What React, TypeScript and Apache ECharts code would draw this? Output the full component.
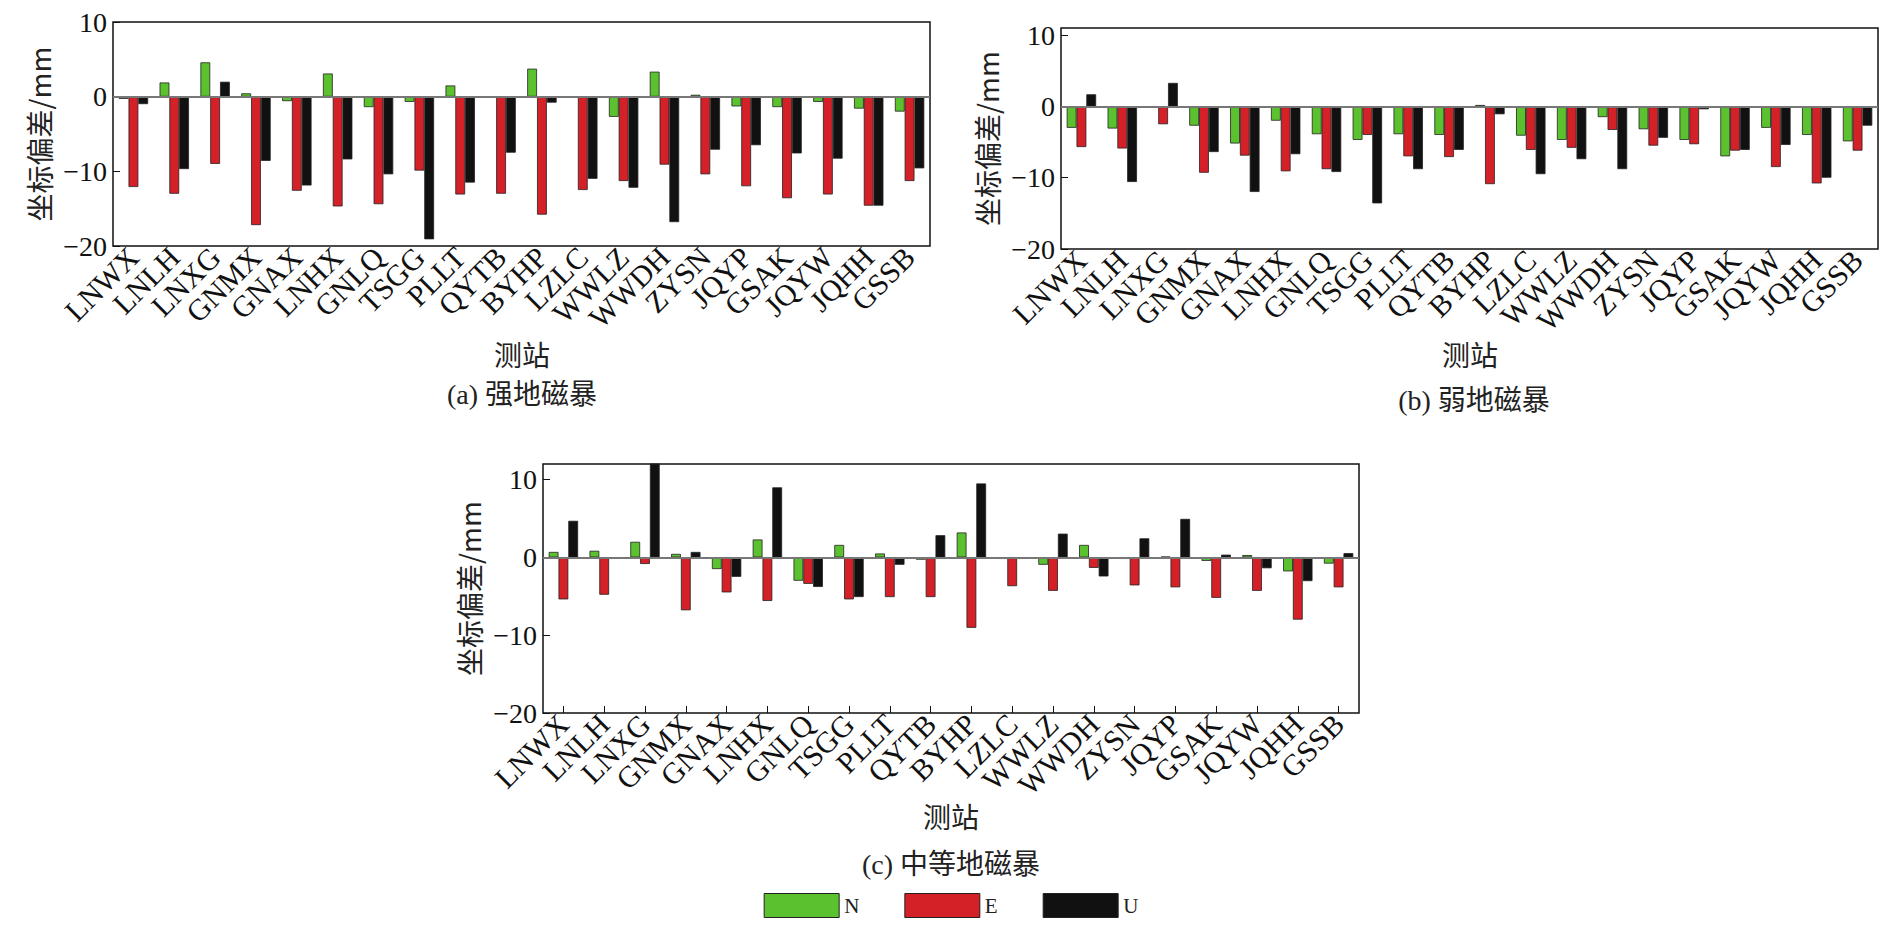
import { useEffect, useRef } from "react"
import * as echarts from "echarts"

const stations = ["LNWX", "LNLH", "LNXG", "GNMX", "GNAX", "LNHX", "GNLQ", "TSGG", "PLLT", "QYTB", "BYHP", "LZLC", "WWLZ", "WWDH", "ZYSN", "JQYP", "GSAK", "JQYW", "JQHH", "GSSB"]

// (a) 强地磁暴
const strongN = [-0.3, 1.9, 4.6, 0.45, -0.6, 3.1, -1.4, -0.7, 1.5, -0.1, 3.75, -0.05, -2.7, 3.35, 0.25, -1.3, -1.4, -0.7, -1.6, -2.0]
const strongE = [-12.1, -13.0, -9.0, -17.2, -12.6, -14.7, -14.4, -9.9, -13.1, -13.0, -15.8, -12.5, -11.3, -9.1, -10.4, -12.0, -13.6, -13.1, -14.6, -11.3]
const strongU = [-1.0, -9.7, 2.0, -8.6, -11.9, -8.4, -10.4, -19.1, -11.5, -7.5, -0.8, -11.0, -12.2, -16.8, -7.1, -6.5, -7.6, -8.3, -14.6, -9.6]

// (b) 弱地磁暴
const weakN = [-3.0, -3.1, -0.2, -2.7, -5.2, -2.0, -3.9, -4.7, -3.9, -4.0, 0.2, -4.1, -4.7, -1.5, -3.2, -4.7, -7.0, -3.0, -4.0, -4.9]
const weakE = [-5.7, -5.9, -2.5, -9.3, -6.9, -9.1, -8.8, -4.0, -7.0, -7.1, -10.9, -6.1, -5.8, -3.3, -5.5, -5.3, -6.2, -8.5, -10.8, -6.2]
const weakU = [1.7, -10.6, 3.3, -6.4, -12.0, -6.7, -9.2, -13.6, -8.8, -6.1, -1.1, -9.5, -7.4, -8.8, -4.4, -0.4, -6.1, -5.4, -10.0, -2.7]

// (c) 中等地磁暴
const midN = [0.7, 0.85, 2.0, 0.45, -1.5, 2.3, -3.0, 1.6, 0.5, -0.3, 3.2, -0.2, -0.95, 1.6, -0.2, 0.1, -0.45, 0.3, -1.8, -0.8]
const midE = [-5.4, -4.8, -0.85, -6.8, -4.5, -5.6, -3.4, -5.4, -5.1, -5.1, -9.05, -3.7, -4.3, -1.35, -3.6, -3.85, -5.2, -4.3, -8.0, -3.85]
const midU = [4.7, -0.2, 12.5, 0.7, -2.5, 9.0, -3.8, -5.1, -0.95, 2.85, 9.5, -0.2, 3.05, -2.45, 2.45, 4.95, 0.35, -1.4, -3.05, 0.55]

const colors = ["#5cc12e", "#d42027", "#111111"]
const names = ["N", "E", "U"]
const serif = "'Liberation Serif', 'Noto Sans CJK SC', serif"
const cjk = "'Noto Sans CJK SC', serif"

const grids = [
  { left: 105, top: 4, width: 817, height: 234 },
  { left: 1053, top: 20, width: 817, height: 221 },
  { left: 535, top: 456, width: 816, height: 249 },
]
const yMax = [10, 11, 12]
const panels = [
  [strongN, strongE, strongU],
  [weakN, weakE, weakU],
  [midN, midE, midU],
]
const captions = [
  { text: "(a) 强地磁暴", x: 514, y: 386, sx: 514, sy: 346 },
  { text: "(b) 弱地磁暴", x: 1466, y: 392, sx: 1462, sy: 346 },
  { text: "(c) 中等地磁暴", x: 943, y: 856, sx: 943, sy: 808 },
]

export default function App() {
  const ref = useRef<HTMLDivElement>(null)

  useEffect(() => {
    if (!ref.current) return
    const chart = echarts.init(ref.current, null, { renderer: "svg" })

    const series: any[] = []
    panels.forEach((data, gi) => {
      data.forEach((vals, si) => {
        series.push({
          name: names[si],
          type: "bar",
          xAxisIndex: gi,
          yAxisIndex: gi,
          data: vals,
          barGap: "0%",
          barCategoryGap: "28%",
          itemStyle: { color: colors[si], borderColor: "#222", borderWidth: 0.8 },
          markLine: si === 0 ? {
            silent: true,
            symbol: "none",
            label: { show: false },
            lineStyle: { color: "#777", type: "solid", width: 2 },
            data: [{ yAxis: 0 }],
          } : undefined,
        })
      })
    })

    chart.setOption({
      animation: false,
      grid: grids.map((g) => ({ ...g, show: true, borderColor: "#111", borderWidth: 1.5, backgroundColor: "#fff" })),
      legend: {
        data: names,
        bottom: 8,
        left: "center",
        itemWidth: 75,
        itemHeight: 24,
        itemGap: 45,
        icon: "rect",
        itemStyle: { borderColor: "#222", borderWidth: 1 },
        textStyle: { fontFamily: serif, fontSize: 21, color: "#222" },
      },
      xAxis: grids.map((_, gi) => ({
        type: "category",
        gridIndex: gi,
        data: stations,
        axisLine: { onZero: false, show: false },
        axisTick: { show: gi === 2, inside: true, alignWithLabel: true, length: 7, lineStyle: { color: "#111" } },
        axisLabel: { interval: 0, rotate: 45, fontFamily: serif, fontSize: 30, color: "#111", margin: 6 },
      })),
      yAxis: grids.map((_, gi) => ({
        type: "value",
        gridIndex: gi,
        min: -20,
        max: yMax[gi],
        interval: 10,
        name: "坐标偏差/mm",
        nameLocation: "middle",
        nameGap: 60,
        nameTextStyle: { fontFamily: cjk, fontSize: 28, color: "#222" },
        axisLine: { show: false },
        axisTick: { show: true, inside: true, length: 7, lineStyle: { color: "#111" } },
        splitLine: { show: false },
        axisLabel: {
          fontFamily: serif, fontSize: 28, color: "#111", margin: 6,
          formatter: (v: number) => (v < 0 ? "−" + Math.abs(v) : String(v)),
        },
      })),
      graphic: captions.flatMap((c) => [
        { type: "text", x: c.sx, y: c.sy, style: { text: "测站", fontFamily: cjk, fontSize: 28, fill: "#222", align: "center", verticalAlign: "middle" } },
        { type: "text", x: c.x, y: c.y, style: { text: c.text, fontFamily: serif, fontSize: 28, fill: "#222", align: "center", verticalAlign: "middle" } },
      ]),
      series,
    })

    return () => chart.dispose()
  }, [])

  return <div ref={ref} style={{ width: "1886px", height: "923px" }} />
}
